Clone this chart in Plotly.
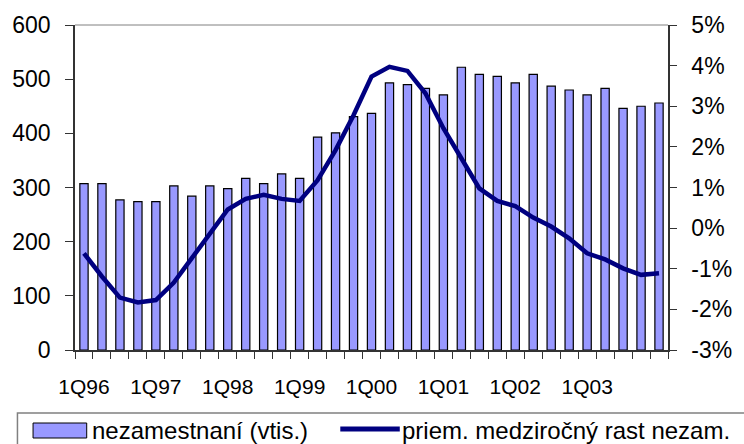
import plotly.graph_objects as go

quarters = [
    "1Q96", "2Q96", "3Q96", "4Q96", "1Q97", "2Q97", "3Q97", "4Q97",
    "1Q98", "2Q98", "3Q98", "4Q98", "1Q99", "2Q99", "3Q99", "4Q99",
    "1Q00", "2Q00", "3Q00", "4Q00", "1Q01", "2Q01", "3Q01", "4Q01",
    "1Q02", "2Q02", "3Q02", "4Q02", "1Q03", "2Q03", "3Q03", "4Q03",
    "1Q04",
]
tick_labels = ["1Q96", "1Q97", "1Q98", "1Q99", "1Q00", "1Q01", "1Q02", "1Q03"]

unemployed = [
    307, 307, 277, 274, 274, 303, 284, 303,
    298, 317, 307, 325, 317, 393, 401, 431,
    437, 493, 490, 483, 471, 522, 509, 505,
    493, 509, 487, 480, 471, 483, 446, 450,
    456,
]
growth = [
    -0.62, -1.19, -1.71, -1.83, -1.77, -1.34, -0.74, -0.13,
    0.46, 0.72, 0.82, 0.72, 0.67, 1.18, 1.92, 2.78,
    3.73, 3.97, 3.87, 3.32, 2.46, 1.72, 0.98, 0.67,
    0.54, 0.26, 0.04, -0.25, -0.62, -0.77, -0.99, -1.15,
    -1.11,
]
pct_ticks = [-3, -2, -1, 0, 1, 2, 3, 4, 5]

BAR_COLOR = "#9999FF"
LINE_COLOR = "#000080"
FONT = "Liberation Sans, Arial, sans-serif"

ticktext = [q if q in tick_labels else "" for q in quarters]

fig = go.Figure()
fig.add_trace(go.Bar(
    x=quarters, y=unemployed, name="nezamestnaní (vtis.)",
    marker=dict(color=BAR_COLOR, line=dict(color="black", width=1.2)),
))
fig.add_trace(go.Scatter(
    x=quarters, y=growth, yaxis="y2", mode="lines",
    name="priem. medziročný rast nezam.",
    line=dict(color=LINE_COLOR, width=4.5),
))

# ── gray top border of plot area
fig.add_shape(type="line", xref="paper", yref="paper", x0=0, x1=1, y0=1, y1=1,
              line=dict(color="#808080", width=1))

# ── hand-drawn legend box (Excel style); positions in screen pixels
def px_x(p):
    return (p - 71) / 608

def px_y(p):
    return (350 - p) / 325

fig.add_shape(type="rect", xref="paper", yref="paper",
              x0=px_x(12), x1=px_x(760), y0=px_y(413), y1=px_y(460),
              line=dict(color="#808080", width=1.5), fillcolor="white")
fig.add_shape(type="rect", xref="paper", yref="paper",
              x0=px_x(28), x1=px_x(83), y0=px_y(423), y1=px_y(438),
              line=dict(color="black", width=1), fillcolor=BAR_COLOR)
fig.add_shape(type="line", xref="paper", yref="paper",
              x0=px_x(343), x1=px_x(404), y0=px_y(429), y1=px_y(429),
              line=dict(color=LINE_COLOR, width=5))
fig.add_annotation(text="nezamestnaní (vtis.)", xref="paper", yref="paper",
                   x=px_x(86), y=px_y(430), xanchor="left", yanchor="middle",
                   showarrow=False, font=dict(size=24, color="black"))
fig.add_annotation(text="priem. medziročný rast nezam.", xref="paper", yref="paper",
                   x=px_x(404), y=px_y(430), xanchor="left", yanchor="middle",
                   showarrow=False, font=dict(size=24, color="black"))

fig.update_layout(
    width=744, height=444,
    margin=dict(l=71, r=65, t=25, b=94),
    paper_bgcolor="white", plot_bgcolor="white",
    font=dict(family=FONT, size=23, color="black"),
    showlegend=False,
    bargap=0.54,
    xaxis=dict(
        type="category", tickvals=quarters, ticktext=ticktext,
        tickson="boundaries", ticks="outside", ticklen=7, tickcolor="#333",
        showline=True, linecolor="#333", linewidth=1.5, showgrid=False,
        ticklabelstandoff=17, tickangle=0, tickfont=dict(size=21),
    ),
    yaxis=dict(
        range=[0, 600], dtick=100, ticks="outside", ticklen=8, tickcolor="#333",
        showline=True, linecolor="#333", linewidth=1.5, showgrid=False,
        zeroline=False, ticklabelstandoff=10,
    ),
    yaxis2=dict(
        overlaying="y", side="right", range=[-3, 5],
        tickvals=pct_ticks, ticktext=[f"{v}%" for v in pct_ticks],
        ticks="outside", ticklen=7, tickcolor="#333",
        showline=True, linecolor="#333", linewidth=1.5, showgrid=False,
        zeroline=False, ticklabelstandoff=10,
    ),
)

# drop the default 8px page margin so the figure fills the window exactly
fig.write_html("out.html", config={"displayModeBar": False},
               post_script="document.body.style.margin='0';")
